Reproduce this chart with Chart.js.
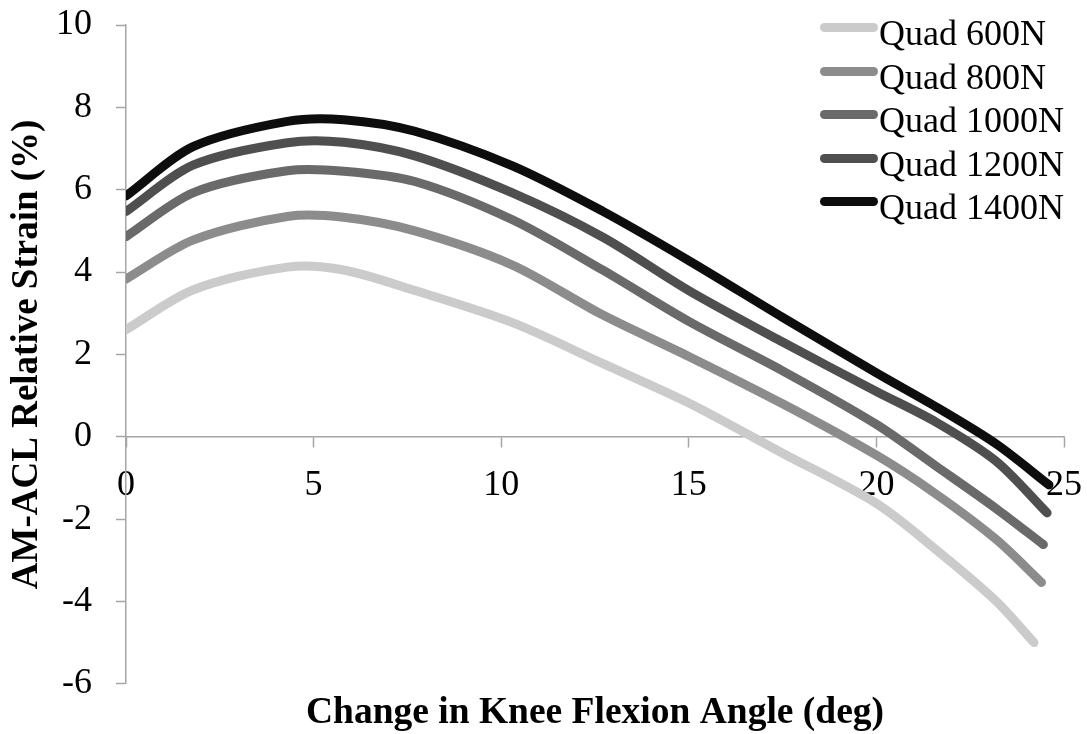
<!DOCTYPE html>
<html>
<head>
<meta charset="utf-8">
<title>AM-ACL Relative Strain</title>
<script src="https://cdn.jsdelivr.net/npm/chart.js@4.4.1/dist/chart.umd.min.js"></script>
<style>
  html, body { margin: 0; padding: 0; background: #fff; }
  .chart-wrap { position: relative; width: 1087px; height: 734px; }
  .legend-wrapper { position: absolute; left: 0; top: 0; width: 1087px; height: 734px; pointer-events: none; }
  .legend-item { position: absolute; left: 820px; height: 44px; }
  .legend-dot { position: absolute; left: 0; width: 58px; height: 9px; border-radius: 5px; }
  .legend-text {
    position: absolute; left: 59px; white-space: nowrap;
    font-family: "Liberation Serif", "Times New Roman", serif; font-size: 36px; line-height: 36px; color: #000;
  }
</style>
</head>
<body>
<div class="chart-wrap">
  <canvas id="strainChart"></canvas>
  <div class="legend-wrapper"></div>
</div>
<script>
// knee flexion angle (deg) for each sample
const angles = [0, 1.8, 4.3, 5.8, 7.7, 10.3, 12.7, 15, 17.5, 20, 21.6, 23.2];
// the last sample sits at a slightly different angle per load
const endAngles = [24.2, 24.4, 24.45, 24.55, 24.6];

const seriesNames = ["Quad 600N", "Quad 800N", "Quad 1000N", "Quad 1200N", "Quad 1400N"];
const quad600 = [2.6, 3.57, 4.12, 4.05, 3.55, 2.77, 1.78, 0.82, -0.4, -1.62, -2.75, -4.0, -5.0];
const quad800 = [3.83, 4.78, 5.35, 5.33, 5.0, 4.17, 2.96, 1.95, 0.8, -0.45, -1.4, -2.5, -3.54];
const quad1000 = [4.86, 5.93, 6.46, 6.45, 6.2, 5.27, 4.05, 2.8, 1.6, 0.3, -0.72, -1.75, -2.62];
const quad1200 = [5.47, 6.6, 7.14, 7.15, 6.82, 5.92, 4.85, 3.55, 2.3, 1.1, 0.35, -0.6, -1.85];
const quad1400 = [5.85, 7.05, 7.66, 7.7, 7.42, 6.58, 5.48, 4.28, 2.9, 1.55, 0.72, -0.18, -1.17];

const xTicks = [0, 5, 10, 15, 20, 25];
const yTicks = [-6, -4, -2, 0, 2, 4, 6, 8, 10];

const colors = ["#cbcbcb", "#8c8c8c", "#6a6a6a", "#4f4f4f", "#0d0d0d"];
const axisGray = "#a6a6a6";
const serif = "'Liberation Serif', 'Times New Roman', serif";

function toPoints(values, idx) {
  return values.map((v, i) => ({
    x: i < angles.length ? angles[i] : endAngles[idx],
    y: v,
  }));
}

document.addEventListener("DOMContentLoaded", function () {
  const ctx = document.getElementById("strainChart");
  const allSeries = [quad600, quad800, quad1000, quad1200, quad1400];

  const datasets = allSeries.map((vals, i) => ({
    label: seriesNames[i],
    data: toPoints(vals, i),
    borderColor: colors[i],
    backgroundColor: colors[i],
    borderWidth: 9,
    borderCapStyle: "round",
    borderJoinStyle: "round",
    pointRadius: 0,
    fill: false,
    tension: 0.3,
    order: allSeries.length - i, // heavier loads drawn on top
  }));

  new Chart(ctx, {
    type: "line",
    data: { datasets: datasets },
    options: {
      responsive: true,
      maintainAspectRatio: false,
      animation: false,
      layout: { padding: { top: 25, right: 23, bottom: 0, left: 0 } },
      plugins: {
        legend: { display: false },
        tooltip: { enabled: false },
        title: {
          display: true,
          position: "bottom",
          fullSize: false,
          text: "Change in Knee Flexion Angle (deg)",
          color: "#000",
          font: { family: serif, size: 37.5, weight: "bold", lineHeight: 1.1 },
          padding: { top: 9, bottom: 0 },
        },
      },
      scales: {
        x: {
          type: "linear",
          position: { y: 0 },
          min: 0,
          max: 25,
          afterFit: function (scale) {
            // axis sits on y = 0, so it takes no room of its own
            scale.height = 0;
            scale.paddingLeft = 0;
            scale.paddingRight = 0;
          },
          afterBuildTicks: function (scale) {
            scale.ticks = xTicks.map((v) => ({ value: v }));
          },
          grid: {
            drawOnChartArea: false,
            drawTicks: true,
            tickLength: 10,
            tickColor: axisGray,
            tickWidth: 1.5,
          },
          border: { display: true, color: axisGray, width: 1.5 },
          ticks: {
            color: "#000",
            padding: 17,
            autoSkip: false,
            maxRotation: 0,
            font: { family: serif, size: 36 },
          },
        },
        y: {
          type: "linear",
          position: "left",
          min: -6,
          max: 10,
          afterFit: function (scale) {
            scale.width = 126;
            scale.paddingTop = 0;
            scale.paddingBottom = 0;
          },
          afterBuildTicks: function (scale) {
            scale.ticks = yTicks.map((v) => ({ value: v }));
          },
          grid: {
            drawOnChartArea: false,
            drawTicks: true,
            tickLength: 10,
            tickColor: axisGray,
            tickWidth: 1.5,
          },
          border: { display: true, color: axisGray, width: 1.5 },
          ticks: {
            color: "#000",
            padding: 24,
            autoSkip: false,
            font: { family: serif, size: 36 },
          },
          title: {
            display: true,
            text: "AM-ACL Relative Strain (%)",
            color: "#000",
            font: { family: serif, size: 37, weight: "bold", lineHeight: 1.2 },
            padding: { top: 5, bottom: 0 },
          },
        },
      },
    },
  });

  updateLegend();
});

function updateLegend() {
  const legendContainer = document.querySelector(".legend-wrapper");
  legendContainer.innerHTML = "";

  seriesNames.forEach((name, index) => {
    const legendItem = document.createElement("div");
    legendItem.classList.add("legend-item");
    legendItem.style.top = (index * 43.6) + "px";
    legendItem.innerHTML = `
      <span class="legend-dot" style="top: 23px; background-color: ${colors[index]};"></span>
      <span class="legend-text" style="top: 15px;">${name}</span>
    `;
    legendContainer.appendChild(legendItem);
  });
}
</script>
</body>
</html>
